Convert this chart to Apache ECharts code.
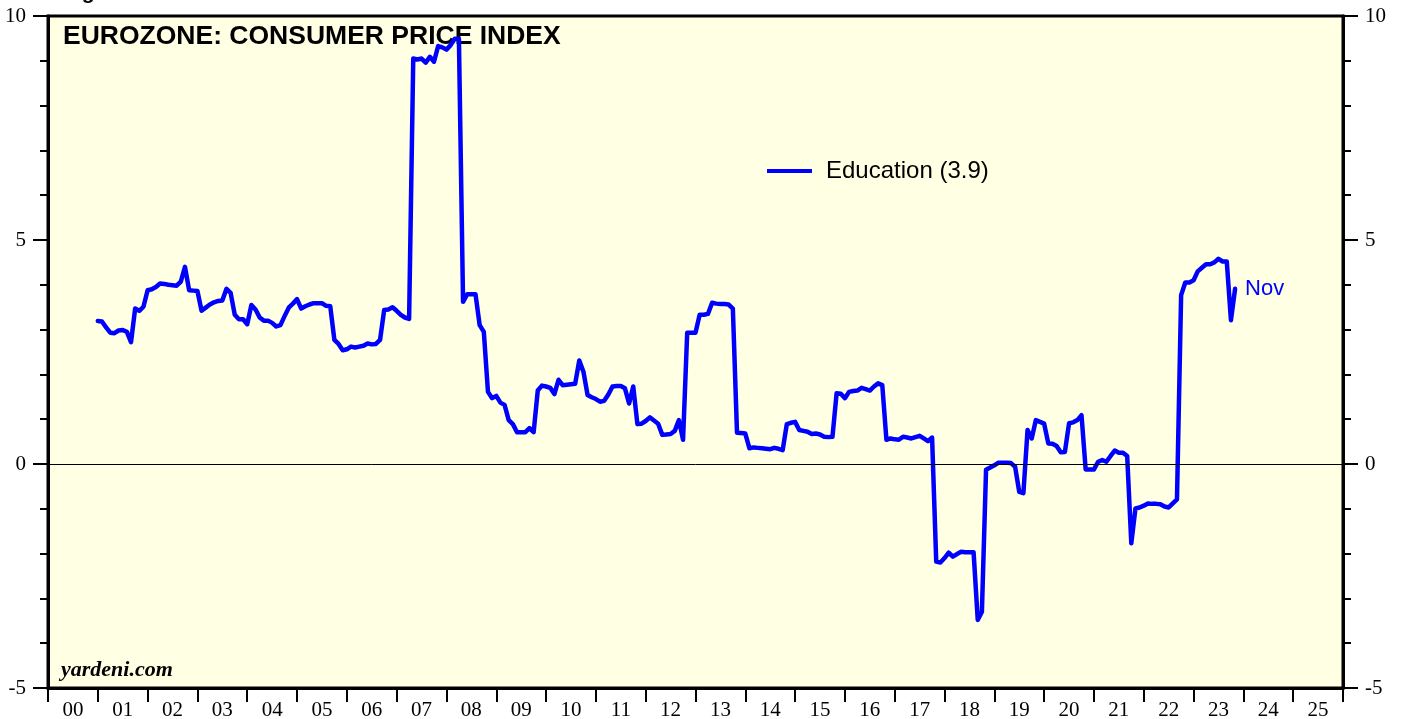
<!DOCTYPE html>
<html>
<head>
<meta charset="utf-8">
<title>Eurozone CPI - Education</title>
<script src="https://cdn.jsdelivr.net/npm/echarts@6/dist/echarts.min.js"></script>
<style>
  html, body { margin: 0; padding: 0; background: #fff; }
  #chart { width: 1403px; height: 719px; }
</style>
</head>
<body>
<div id="chart"></div>
<script>
// year labels under the x axis
const yearLabels = ['00','01','02','03','04','05','06','07','08','09','10','11','12',
  '13','14','15','16','17','18','19','20','21','22','23','24','25'];

// first month of the series (Jan 2001), monthly values, yoy %
const startYear = 2001;
const education = [
  // 2001
  3.19, 3.18, 3.05, 2.93, 2.92, 2.98, 2.99, 2.95, 2.72, 3.47, 3.42, 3.51,
  // 2002
  3.88, 3.90, 3.95, 4.03, 4.02, 4.00, 3.99, 3.98, 4.07, 4.40, 3.88, 3.87,
  // 2003
  3.86, 3.42, 3.49, 3.56, 3.61, 3.64, 3.65, 3.91, 3.82, 3.33, 3.23, 3.23,
  // 2004
  3.12, 3.55, 3.45, 3.27, 3.20, 3.20, 3.15, 3.07, 3.10, 3.30, 3.49, 3.58,
  // 2005
  3.68, 3.47, 3.52, 3.56, 3.59, 3.59, 3.59, 3.53, 3.52, 2.77, 2.68, 2.54,
  // 2006
  2.56, 2.62, 2.60, 2.62, 2.64, 2.69, 2.67, 2.68, 2.77, 3.44, 3.45, 3.50,
  // 2007
  3.42, 3.33, 3.27, 3.24, 9.05, 9.03, 9.05, 8.96, 9.09, 8.98, 9.33, 9.30,
  // 2008
  9.25, 9.35, 9.49, 9.49, 3.62, 3.79, 3.79, 3.79, 3.10, 2.95, 1.61, 1.47,
  // 2009
  1.52, 1.37, 1.32, 0.98, 0.89, 0.71, 0.71, 0.71, 0.80, 0.71, 1.64, 1.75,
  // 2010
  1.73, 1.70, 1.56, 1.88, 1.76, 1.77, 1.78, 1.79, 2.31, 2.06, 1.54, 1.49,
  // 2011
  1.45, 1.39, 1.41, 1.55, 1.73, 1.74, 1.74, 1.69, 1.35, 1.73, 0.89, 0.90,
  // 2012
  0.96, 1.04, 0.97, 0.90, 0.65, 0.66, 0.67, 0.74, 0.98, 0.54, 2.93, 2.93,
  // 2013
  2.93, 3.33, 3.33, 3.35, 3.60, 3.58, 3.57, 3.57, 3.56, 3.47, 0.70, 0.69,
  // 2014
  0.68, 0.35, 0.37, 0.36, 0.35, 0.34, 0.33, 0.36, 0.34, 0.31, 0.89, 0.92,
  // 2015
  0.94, 0.76, 0.74, 0.72, 0.67, 0.68, 0.66, 0.61, 0.60, 0.61, 1.58, 1.57,
  // 2016
  1.47, 1.61, 1.63, 1.64, 1.70, 1.67, 1.64, 1.73, 1.80, 1.76, 0.54, 0.57,
  // 2017
  0.55, 0.54, 0.61, 0.59, 0.57, 0.60, 0.63, 0.57, 0.51, 0.59, -2.18, -2.20,
  // 2018
  -2.10, -1.98, -2.07, -2.01, -1.96, -1.97, -1.97, -1.97, -3.48, -3.30, -0.13, -0.08,
  // 2019
  -0.03, 0.03, 0.03, 0.03, 0.02, -0.06, -0.62, -0.65, 0.76, 0.57, 0.98, 0.94,
  // 2020
  0.90, 0.46, 0.45, 0.40, 0.26, 0.27, 0.91, 0.93, 0.98, 1.09, -0.12, -0.12,
  // 2021
  -0.12, 0.05, 0.09, 0.05, 0.18, 0.30, 0.25, 0.25, 0.18, -1.77, -0.99, -0.97,
  // 2022
  -0.93, -0.88, -0.89, -0.89, -0.90, -0.95, -0.97, -0.88, -0.79, 3.77, 4.05, 4.05,
  // 2023 (to Nov)
  4.10, 4.30, 4.38, 4.46, 4.46, 4.50, 4.58, 4.52, 4.52, 3.21, 3.91
];

const seriesData = education.map((v, i) => [startYear + i / 12, v]);

const chart = echarts.init(document.getElementById('chart'));
const serif = '"Liberation Serif", "Times New Roman", serif';
const sans = '"Liberation Sans", Arial, sans-serif';

const yAxisBase = {
  type: 'value',
  min: -5, max: 10, interval: 5,
  axisLine: { show: true, onZero: false, lineStyle: { color: '#000', width: 3 } },
  axisTick: { show: true, inside: false, length: 15, lineStyle: { color: '#000', width: 2 } },
  minorTick: { show: true, splitNumber: 5, length: 8, lineStyle: { color: '#000', width: 2 } },
  axisLabel: { color: '#000', fontFamily: serif, fontSize: 21, margin: 22 },
  splitLine: { show: false }
};

chart.setOption({
  backgroundColor: '#fff',
  animation: false,
  grid: {
    left: 48, right: 60, top: 16, bottom: 31,
    outerBoundsMode: 'none',
    show: true, backgroundColor: '#FFFFE4', borderColor: '#000', borderWidth: 3
  },
  legend: {
    left: 762, top: 154,
    icon: 'rect', itemWidth: 45, itemHeight: 4,
    textStyle: { fontFamily: sans, fontSize: 24, color: '#000', padding: [0, 0, 0, 9] },
    data: ['Education (3.9)']
  },
  xAxis: [
    {
      type: 'category', data: yearLabels, boundaryGap: true, position: 'bottom',
      axisLine: { show: true, onZero: false, lineStyle: { color: '#000', width: 3 } },
      axisTick: { show: true, inside: false, length: 14, lineStyle: { color: '#000', width: 2 } },
      axisLabel: { color: '#000', fontFamily: serif, fontSize: 21, margin: 12 },
      splitLine: { show: false }
    },
    { type: 'value', min: 2000, max: 2026, show: false }
  ],
  yAxis: [
    Object.assign({}, yAxisBase, { position: 'left' }),
    Object.assign({}, yAxisBase, { position: 'right' })
  ],
  graphic: [
    { type: 'text', left: 63, top: -17,
      style: { text: 'Figure 1.', font: 'bold 21px ' + sans, fill: '#000' } },
    { type: 'text', left: 63, top: 23,
      style: { text: 'EUROZONE: CONSUMER PRICE INDEX', font: 'bold 26.5px ' + sans, fill: '#000' } },
    { type: 'text', left: 61, top: 659,
      style: { text: 'yardeni.com', font: 'italic bold 22px ' + serif, fill: '#000' } }
  ],
  series: [{
    name: 'Education (3.9)',
    type: 'line',
    xAxisIndex: 1, yAxisIndex: 0,
    data: seriesData,
    showSymbol: false,
    lineStyle: { color: '#0000FF', width: 4.5, cap: 'round', join: 'round' },
    itemStyle: { color: '#0000FF' },
    endLabel: { show: true, formatter: 'Nov', color: '#0000FF', fontFamily: sans, fontSize: 22, distance: 10 },
    markLine: {
      silent: true, symbol: 'none', animation: false,
      label: { show: false },
      lineStyle: { color: '#000', width: 1, type: 'solid' },
      data: [{ yAxis: 0 }]
    },
    z: 3
  }]
});
</script>
</body>
</html>
